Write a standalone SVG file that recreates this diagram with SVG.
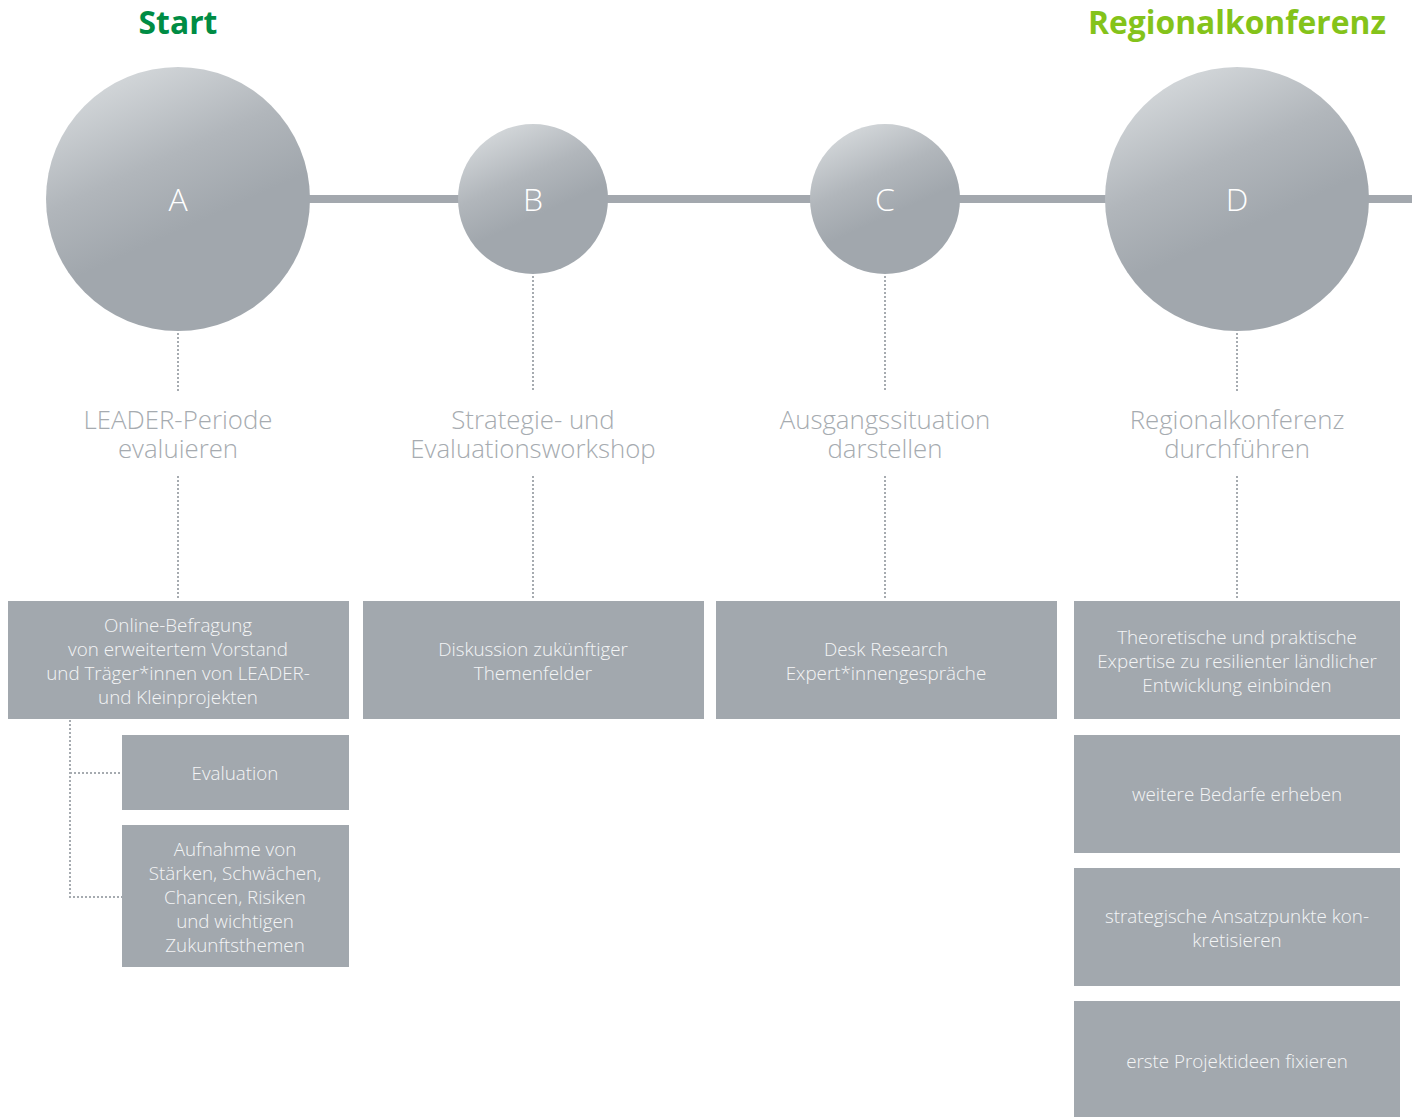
<svg xmlns="http://www.w3.org/2000/svg" width="1412" height="1117" viewBox="0 0 1412 1117">
<defs>
<linearGradient id="g" x1="0.3" y1="0.05" x2="0.55" y2="0.6">
<stop offset="0" stop-color="#d0d4d7"/>
<stop offset="0.55" stop-color="#b1b6bb"/>
<stop offset="1" stop-color="#a1a7ad"/>
</linearGradient>
<style>
.circ{fill:url(#g);}
.let{font-family:"Open Sans","Liberation Sans",sans-serif;font-weight:300;font-size:32px;fill:#ffffff;text-anchor:middle;}
.lbl{font-family:"Open Sans","Liberation Sans",sans-serif;font-weight:300;font-size:25.8px;fill:#a6abb0;text-anchor:middle;}
.box{fill:#a2a8ae;}
.bt{font-family:"Open Sans","Liberation Sans",sans-serif;font-weight:300;font-size:18.8px;fill:#f4f5f6;text-anchor:middle;}
.dot{stroke:#a6abb0;stroke-width:2;stroke-dasharray:2 2;fill:none;}
.ttl{font-family:"Open Sans","Liberation Sans",sans-serif;font-weight:700;font-size:31.8px;text-anchor:middle;}
</style>
</defs>
<rect width="1412" height="1117" fill="#ffffff"/>
<text class="ttl" x="178" y="34" fill="#008c44">Start</text>
<text class="ttl" x="1237" y="34" fill="#84c31a">Regionalkonferenz</text>
<g id="connectors">
<rect x="300" y="195" width="1112" height="8" fill="#a3a8ae"/>
<path class="dot" d="M178 333V392M178 476V600"/>
<path class="dot" d="M533 276V392M533 476V600"/>
<path class="dot" d="M885 276V392M885 476V600"/>
<path class="dot" d="M1237 333V392M1237 476V600"/>
<path class="dot" d="M70 720V897H122M70 773H122"/>
</g>
<g id="nodeA"><circle class="circ" cx="178" cy="199" r="132"/><text class="let" x="178" y="211">A</text></g>
<g id="nodeB"><circle class="circ" cx="533" cy="199" r="75"/><text class="let" x="533" y="211">B</text></g>
<g id="nodeC"><circle class="circ" cx="885" cy="199" r="75"/><text class="let" x="885" y="211">C</text></g>
<g id="nodeD"><circle class="circ" cx="1237" cy="199" r="132"/><text class="let" x="1237" y="211">D</text></g>
<g id="labelA"><text class="lbl" x="178" y="429">LEADER-Periode</text><text class="lbl" x="178" y="458">evaluieren</text></g>
<g id="labelB"><text class="lbl" x="533" y="429">Strategie- und</text><text class="lbl" x="533" y="458">Evaluationsworkshop</text></g>
<g id="labelC"><text class="lbl" x="885" y="429">Ausgangssituation</text><text class="lbl" x="885" y="458">darstellen</text></g>
<g id="labelD"><text class="lbl" x="1237" y="429">Regionalkonferenz</text><text class="lbl" x="1237" y="458">durchführen</text></g>
<g id="boxA1"><rect class="box" x="8" y="601" width="341" height="118"/>
<text class="bt" x="178" y="632">Online-Befragung</text><text class="bt" x="178" y="656">von erweitertem Vorstand</text><text class="bt" x="178" y="680">und Träger*innen von LEADER-</text><text class="bt" x="178" y="704">und Kleinprojekten</text></g>
<g id="boxA2"><rect class="box" x="122" y="735" width="227" height="75"/><text class="bt" x="235" y="780">Evaluation</text></g>
<g id="boxA3"><rect class="box" x="122" y="825" width="227" height="142"/>
<text class="bt" x="235" y="856">Aufnahme von</text><text class="bt" x="235" y="880">Stärken, Schwächen,</text><text class="bt" x="235" y="904">Chancen, Risiken</text><text class="bt" x="235" y="928">und wichtigen</text><text class="bt" x="235" y="952">Zukunftsthemen</text></g>
<g id="boxB1"><rect class="box" x="363" y="601" width="341" height="118"/>
<text class="bt" x="533" y="656">Diskussion zukünftiger</text><text class="bt" x="533" y="680">Themenfelder</text></g>
<g id="boxC1"><rect class="box" x="716" y="601" width="341" height="118"/>
<text class="bt" x="886" y="656">Desk Research</text><text class="bt" x="886" y="680">Expert*innengespräche</text></g>
<g id="boxD1"><rect class="box" x="1074" y="601" width="326" height="118"/>
<text class="bt" x="1237" y="644">Theoretische und praktische</text><text class="bt" x="1237" y="668">Expertise zu resilienter ländlicher</text><text class="bt" x="1237" y="692">Entwicklung einbinden</text></g>
<g id="boxD2"><rect class="box" x="1074" y="735" width="326" height="118"/><text class="bt" x="1237" y="801">weitere Bedarfe erheben</text></g>
<g id="boxD3"><rect class="box" x="1074" y="868" width="326" height="118"/>
<text class="bt" x="1237" y="923">strategische Ansatzpunkte kon-</text><text class="bt" x="1237" y="947">kretisieren</text></g>
<g id="boxD4"><rect class="box" x="1074" y="1001" width="326" height="116"/><text class="bt" x="1237" y="1068">erste Projektideen fixieren</text></g>
</svg>
